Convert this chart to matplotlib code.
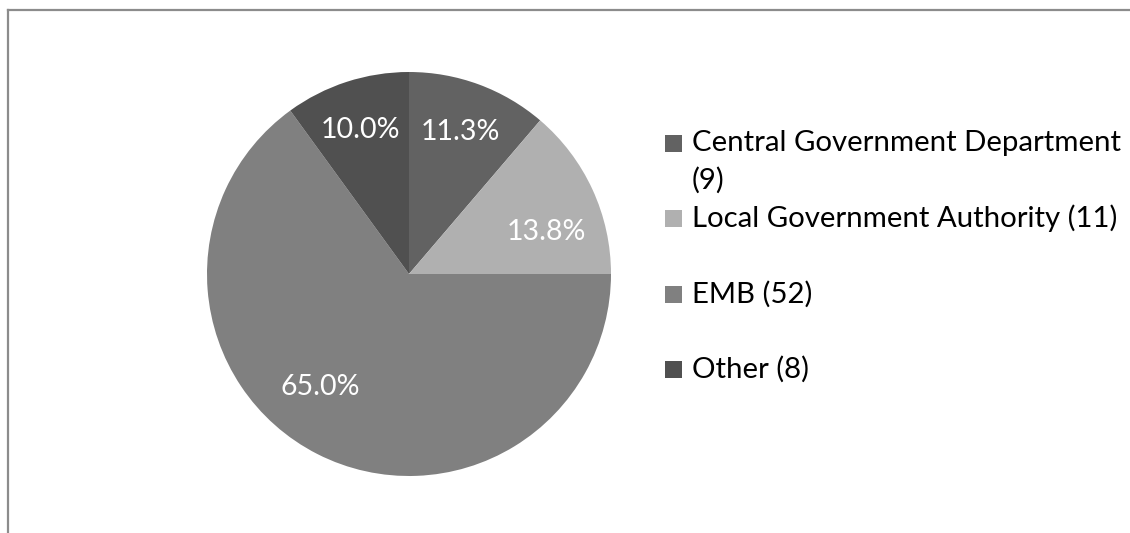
import matplotlib
matplotlib.use("Agg")
import matplotlib.pyplot as plt
from matplotlib.lines import Line2D
from matplotlib.patches import Rectangle
import numpy as np

plt.rcParams['font.family'] = ['Lato', 'DejaVu Sans']

categories = ["Central Government Department\n(9)", "Local Government Authority (11)",
              "EMB (52)", "Other (8)"]
counts = [9, 11, 52, 8]
colors = ["#626262", "#b0b0b0", "#808080", "#505050"]

W, H = 1130, 533
fig = plt.figure(figsize=(W / 100, H / 100), dpi=100)


def pct_label(p):
    # round half up, like a spreadsheet does
    return "%.1f%%" % (np.floor(round(p, 6) * 10 + 0.5) / 10)


# pie axes placed in pixel terms: centre (409, 274), radius 202
cx, cy, r = 409, 274, 202
ax = fig.add_axes([(cx - r) / W, (H - cy - r) / H, 2 * r / W, 2 * r / H])
wedges, _, pcts = ax.pie(counts, colors=colors, startangle=90, counterclock=False,
                         autopct=pct_label, pctdistance=0.73,
                         textprops=dict(color="white", fontsize=20.5))
ax.set_xlim(-1, 1)
ax.set_ylim(-1, 1)
ax.set_aspect('equal')
ax.axis('off')

# label spots as polar (angle deg, radius fraction)
label_pos = [(70, 0.75), (17, 0.71), (-128, 0.71), (108.5, 0.75)]
for t, (ang, d) in zip(pcts, label_pos):
    a = np.deg2rad(ang)
    t.set_position((d * np.cos(a), d * np.sin(a)))

# legend drawn as square + text per category
row_y = [143, 218, 294, 369]
for lab, col, y in zip(categories, colors, row_y):
    fig.patches.append(Rectangle((665 / W, 1 - (y + 9) / H), 17 / W, 17 / H,
                                 transform=fig.transFigure, facecolor=col,
                                 edgecolor='none'))
    for i, line in enumerate(lab.split("\n")):
        fig.text(692 / W, 1 - (y + 37 * i) / H, line, fontsize=21.2, va='center',
                 ha='left', color='black')

# chart frame (top and left edges)
fig.lines.append(Line2D([8 / W, 1], [1 - 10 / H, 1 - 10 / H], transform=fig.transFigure,
                        color="#8c8c8c", lw=1.6))
fig.lines.append(Line2D([8 / W, 8 / W], [0, 1 - 10 / H], transform=fig.transFigure,
                        color="#8c8c8c", lw=1.6))

fig.savefig("out.png", dpi=100)
